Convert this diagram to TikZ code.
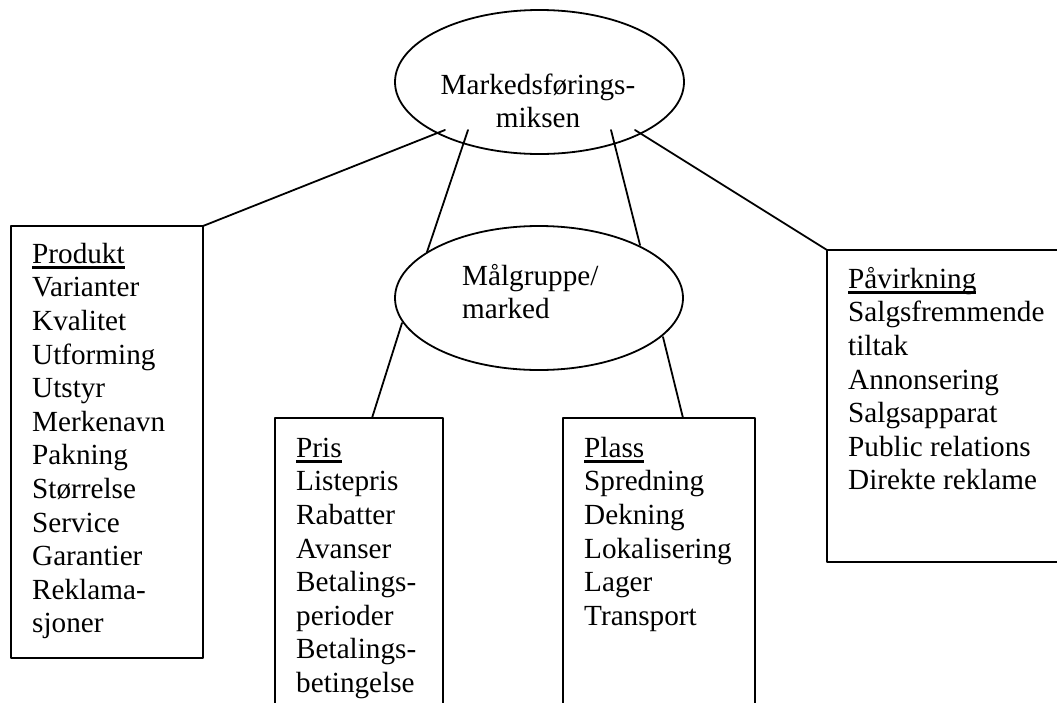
\documentclass[tikz,border=0pt]{standalone}
\usepackage{fontspec}
\setmainfont{Liberation Serif}
\usetikzlibrary{shapes.geometric,calc}
\newcommand{\headline}[1]{\setbox0\hbox{#1}\rlap{\rule[-5.4pt]{\wd0}{2.2pt}}\box0}

\begin{document}
\begin{tikzpicture}[line cap=round,line join=round,x=1pt,y=-1pt,
  every node/.style={font=\fontsize{29.2}{33.6}\selectfont},
  box/.style={draw,line width=2pt,rectangle,anchor=north west,inner sep=0pt,outer sep=0pt},
  oval/.style={draw,ellipse,line width=1.8pt,inner sep=0pt,outer sep=0pt},
  list/.style={anchor=north west,align=left,inner sep=0pt}]
        \useasboundingbox (0,0) rectangle (1057,702);
        \clip (0,0) rectangle (1057,702);
        % ovals
        \node[oval,minimum width=289pt,minimum height=144pt] (mix) at (539.5,82) {};
        \node[anchor=north,align=center,inner sep=0pt] (mixtxt) at (538,70.5) {\strut Markedsførings-\\miksen};
        \node[oval,minimum width=288pt,minimum height=144pt] (maal) at (539,298) {};
        \node[list] (maaltxt) at (462,261.5) {\strut Målgruppe/\\marked};
        % boxes
        \node[box,minimum width=192pt,minimum height=432pt] (prod) at (11,226) {};
        \node[list] (prodtxt) at (32,239.5) {\strut\headline{Produkt}\\Varianter\\Kvalitet\\Utforming\\Utstyr\\Merkenavn\\Pakning\\Størrelse\\Service\\Garantier\\Reklama-\\sjoner};
        \node[box,minimum width=168pt,minimum height=400pt] (pris) at (275,418) {};
        \node[list] (pristxt) at (296,433.5) {\strut\headline{Pris}\\Listepris\\Rabatter\\Avanser\\Betalings-\\perioder\\Betalings-\\betingelse};
        \node[box,minimum width=192pt,minimum height=400pt] (plass) at (563,418) {};
        \node[list] (plasstxt) at (584,433.5) {\strut\headline{Plass}\\Spredning\\Dekning\\Lokalisering\\Lager\\Transport};
        \node[box,minimum width=300pt,minimum height=312pt] (pavirk) at (827,250) {};
        \node[list] (pavirktxt) at (848,264.5) {\strut\headline{Påvirkning}\\Salgsfremmende\\tiltak\\Annonsering\\Salgsapparat\\Public relations\\Direkte reklame};
        % connectors
        \draw [line width=1.8pt] ($(mix)+(-94.5,48)$) -- (prod.north east);
        \draw [line width=1.8pt] ($(mix)+(-71.5,48)$) -- ($(maal)+(-112,-46)$);
        \draw [line width=1.8pt] ($(mix)+(71.5,48)$) -- ($(maal)+(101,-53)$);
        \draw [line width=1.8pt] ($(mix)+(95.5,48)$) -- (pavirk.north west);
        \draw [line width=1.8pt] ($(maal)+(-137,25)$) -- ($(pris.north)+(13,0)$);
        \draw [line width=1.8pt] ($(maal)+(124,39)$) -- ($(plass.north)+(24,0)$);
\end{tikzpicture}
\end{document}
